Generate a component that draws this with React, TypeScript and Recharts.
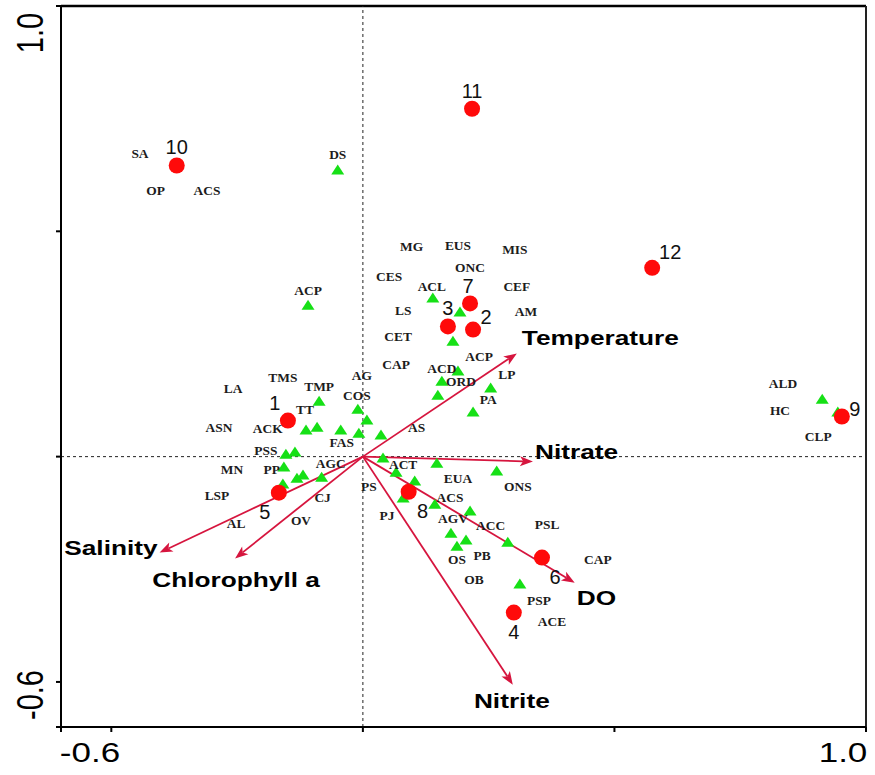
import { ScatterChart, Scatter, XAxis, YAxis, ReferenceLine } from 'recharts'

// sample sites (CCA site scores)
const sites = [
  { id: '1', x: -0.149, y: 0.08 },
  { id: '2', x: 0.219, y: 0.282 },
  { id: '3', x: 0.169, y: 0.289 },
  { id: '4', x: 0.3, y: -0.346 },
  { id: '5', x: -0.167, y: -0.08 },
  { id: '6', x: 0.356, y: -0.224 },
  { id: '7', x: 0.213, y: 0.34 },
  { id: '8', x: 0.091, y: -0.078 },
  { id: '9', x: 0.952, y: 0.089 },
  { id: '10', x: -0.37, y: 0.646 },
  { id: '11', x: 0.217, y: 0.772 },
  { id: '12', x: 0.575, y: 0.419 },
]

// species scores (triangles)
const speciesPoints = [
  { x: -0.109, y: 0.335 }, { x: 0.139, y: 0.351 }, { x: 0.193, y: 0.32 },
  { x: 0.179, y: 0.255 }, { x: 0.189, y: 0.189 }, { x: 0.157, y: 0.166 },
  { x: 0.149, y: 0.135 }, { x: 0.254, y: 0.151 }, { x: 0.219, y: 0.098 },
  { x: -0.087, y: 0.122 }, { x: -0.01, y: 0.104 }, { x: 0.008, y: 0.08 },
  { x: -0.113, y: 0.058 }, { x: -0.091, y: 0.064 }, { x: -0.044, y: 0.058 },
  { x: -0.008, y: 0.051 }, { x: 0.036, y: 0.047 }, { x: -0.153, y: 0.004 },
  { x: -0.135, y: 0.009 }, { x: -0.157, y: -0.024 }, { x: -0.131, y: -0.049 },
  { x: -0.119, y: -0.042 }, { x: -0.082, y: -0.047 }, { x: -0.159, y: -0.062 },
  { x: 0.04, y: -0.004 }, { x: 0.147, y: -0.016 }, { x: 0.266, y: -0.033 },
  { x: 0.066, y: -0.036 }, { x: 0.103, y: -0.055 }, { x: 0.08, y: -0.093 },
  { x: 0.143, y: -0.107 }, { x: 0.213, y: -0.122 }, { x: 0.175, y: -0.171 },
  { x: 0.205, y: -0.186 }, { x: 0.187, y: -0.2 }, { x: 0.288, y: -0.191 },
  { x: 0.312, y: -0.284 }, { x: -0.05, y: 0.635 }, { x: 0.913, y: 0.126 },
  { x: 0.944, y: 0.098 },
]

// species abbreviations
const speciesLabels = [
  { name: 'SA', x: -0.443, y: 0.672 }, { name: 'OP', x: -0.412, y: 0.59 },
  { name: 'ACS', x: -0.31, y: 0.588 }, { name: 'DS', x: -0.05, y: 0.668 },
  { name: 'MG', x: 0.097, y: 0.464 }, { name: 'EUS', x: 0.189, y: 0.466 },
  { name: 'MIS', x: 0.302, y: 0.459 }, { name: 'ONC', x: 0.213, y: 0.417 },
  { name: 'CES', x: 0.052, y: 0.397 }, { name: 'CEF', x: 0.306, y: 0.375 },
  { name: 'ACL', x: 0.137, y: 0.377 }, { name: 'ACP', x: -0.109, y: 0.366 },
  { name: 'LS', x: 0.08, y: 0.322 }, { name: 'AM', x: 0.324, y: 0.32 },
  { name: 'CET', x: 0.07, y: 0.264 }, { name: 'ACP', x: 0.231, y: 0.22 },
  { name: 'CAP', x: 0.066, y: 0.202 }, { name: 'ACD', x: 0.157, y: 0.195 },
  { name: 'LP', x: 0.286, y: 0.18 }, { name: 'ORD', x: 0.195, y: 0.164 },
  { name: 'TMS', x: -0.159, y: 0.173 }, { name: 'AG', x: -0.002, y: 0.178 },
  { name: 'LA', x: -0.258, y: 0.149 }, { name: 'TMP', x: -0.087, y: 0.153 },
  { name: 'COS', x: -0.012, y: 0.133 }, { name: 'ALD', x: 0.835, y: 0.16 },
  { name: 'PA', x: 0.249, y: 0.126 }, { name: 'TT', x: -0.115, y: 0.102 },
  { name: 'HC', x: 0.829, y: 0.1 }, { name: 'ASN', x: -0.286, y: 0.064 },
  { name: 'ACK', x: -0.189, y: 0.06 }, { name: 'AS', x: 0.107, y: 0.062 },
  { name: 'CLP', x: 0.905, y: 0.042 }, { name: 'FAS', x: -0.042, y: 0.029 },
  { name: 'PSS', x: -0.193, y: 0.011 }, { name: 'AGC', x: -0.064, y: -0.016 },
  { name: 'ACT', x: 0.08, y: -0.018 }, { name: 'MN', x: -0.26, y: -0.031 },
  { name: 'PP', x: -0.181, y: -0.031 }, { name: 'EUA', x: 0.189, y: -0.051 },
  { name: 'PS', x: 0.012, y: -0.067 }, { name: 'ONS', x: 0.308, y: -0.069 },
  { name: 'LSP', x: -0.29, y: -0.089 }, { name: 'ACS', x: 0.173, y: -0.093 },
  { name: 'CJ', x: -0.08, y: -0.093 }, { name: 'PJ', x: 0.048, y: -0.133 },
  { name: 'AGV', x: 0.179, y: -0.138 }, { name: 'OV', x: -0.123, y: -0.144 },
  { name: 'AL', x: -0.252, y: -0.151 }, { name: 'PSL', x: 0.366, y: -0.153 },
  { name: 'ACC', x: 0.254, y: -0.155 }, { name: 'PB', x: 0.237, y: -0.222 },
  { name: 'OS', x: 0.187, y: -0.231 }, { name: 'CAP', x: 0.467, y: -0.231 },
  { name: 'OB', x: 0.221, y: -0.275 }, { name: 'PSP', x: 0.35, y: -0.32 },
  { name: 'ACE', x: 0.376, y: -0.368 },
]

// environmental variable vectors
const envVectors = [
  { name: 'Temperature', x: 0.306, y: 0.229 },
  { name: 'Nitrate', x: 0.338, y: -0.011 },
  { name: 'DO', x: 0.421, y: -0.28 },
  { name: 'Nitrite', x: 0.298, y: -0.506 },
  { name: 'Salinity', x: -0.404, y: -0.213 },
  { name: 'Chlorophyll a', x: -0.254, y: -0.226 },
]

const axisTicks = [-0.6, -0.5, 0, 0.5, 1.0]
const axisEndLabels = [-0.6, 1.0]

const ARROW = '#d6153e'
const SANS = "Arial, 'Liberation Sans', sans-serif"
const SERIF = "'Times New Roman', 'Liberation Serif', serif"

const siteLabelOffset: Record<string, [number, number]> = {
  '1': [-13, -18], '2': [13, -13], '3': [0, -18], '4': [0, 19],
  '5': [-14, 19], '6': [13, 19], '7': [-2, -17], '8': [14, 19],
  '9': [13, -8], '10': [0, -19], '11': [0, -18], '12': [18, -16],
}

const envLabelPlacement: Record<string, { dx: number; dy: number; anchor: string }> = {
  Temperature: { dx: 5, dy: -16, anchor: 'start' },
  Nitrate: { dx: 2, dy: -10, anchor: 'start' },
  DO: { dx: 2, dy: 15, anchor: 'start' },
  Nitrite: { dx: -1, dy: 16, anchor: 'middle' },
  Salinity: { dx: -2, dy: -5, anchor: 'end' },
  'Chlorophyll a': { dx: 1, dy: 21, anchor: 'middle' },
}

function StretchText({ x, y, size, children, anchor = 'middle', weight = 'normal', family = SANS, sx = 1.25, rotate = 0, fill = '#000' }: any) {
  const t = `translate(${x},${y}) scale(${sx},1)${rotate ? ` rotate(${rotate})` : ''}`
  return (
    <text transform={t} fontSize={size} fontWeight={weight} fontFamily={family} textAnchor={anchor} dominantBaseline="central" fill={fill}>
      {children}
    </text>
  )
}

const arrowShape = (name: string) => (p: any) => {
  const { x1, y1, x2, y2 } = p
  const len = Math.hypot(x2 - x1, y2 - y1)
  const ux = (x2 - x1) / len
  const uy = (y2 - y1) / len
  const L = 13
  const W = 5
  const bx = x2 - ux * L
  const by = y2 - uy * L
  const nx = x2 - ux * L * 0.75
  const ny = y2 - uy * L * 0.75
  const head = `${x2},${y2} ${bx - uy * W},${by + ux * W} ${nx},${ny} ${bx + uy * W},${by - ux * W}`
  const lp = envLabelPlacement[name]
  return (
    <g>
      <line x1={x1} y1={y1} x2={nx} y2={ny} stroke={ARROW} strokeWidth={1.8} />
      <polygon points={head} fill={ARROW} />
      <StretchText x={x2 + lp.dx} y={y2 + lp.dy} size={21} weight="bold" anchor={lp.anchor}>
        {name}
      </StretchText>
    </g>
  )
}

const TriangleShape = (p: any) => {
  const { cx, cy } = p
  return <polygon points={`${cx},${cy - 6} ${cx - 6.5},${cy + 4} ${cx + 6.5},${cy + 4}`} fill="#16e016" />
}

const SiteShape = (p: any) => {
  const { cx, cy, payload } = p
  const [dx, dy] = siteLabelOffset[payload.id]
  return (
    <g>
      <circle cx={cx} cy={cy} r={8} fill="#ff0a0a" />
      <text x={cx + dx} y={cy + dy} fontSize={20} fontFamily={SANS} textAnchor="middle" dominantBaseline="central" fill="#111">
        {payload.id}
      </text>
    </g>
  )
}

const SpeciesLabelShape = (p: any) => {
  const { cx, cy, payload } = p
  return (
    <StretchText x={cx} y={cy} size={12} weight="bold" family={SERIF} sx={1.12} fill="#1c1c1c">
      {payload.name}
    </StretchText>
  )
}

// only the two ends of each axis carry a number
const XTick = (p: any) => {
  const { x, payload } = p
  if (!axisEndLabels.includes(payload.value)) return <g />
  const dx = payload.value < 0 ? 29 : -23
  return (
    <StretchText x={x + dx} y={752} size={28}>
      {payload.value.toFixed(1)}
    </StretchText>
  )
}

const YTick = (p: any) => {
  const { y, payload } = p
  if (!axisEndLabels.includes(payload.value)) return <g />
  const dy = payload.value < 0 ? -32 : 27
  return (
    <StretchText x={30} y={y + dy} size={29} rotate={-90}>
      {payload.value.toFixed(1)}
    </StretchText>
  )
}

export default function App() {
  return (
    <div style={{ position: 'absolute', left: 0, top: 0, background: '#fff' }}>
      <ScatterChart width={875} height={775} margin={{ top: 6, right: 9, bottom: 0, left: 0 }}>
        <XAxis
          type="number"
          dataKey="x"
          domain={[-0.6, 1.0]}
          ticks={axisTicks}
          interval={0}
          height={48}
          axisLine={{ stroke: '#000', strokeWidth: 2 }}
          tickLine={{ stroke: '#000', strokeWidth: 2 }}
          tickSize={5}
          tick={XTick}
        />
        <YAxis
          type="number"
          dataKey="y"
          domain={[-0.6, 1.0]}
          ticks={axisTicks}
          interval={0}
          width={61}
          axisLine={{ stroke: '#000', strokeWidth: 2 }}
          tickLine={{ stroke: '#000', strokeWidth: 2 }}
          tickSize={5}
          tick={YTick}
        />
        <ReferenceLine y={1.0} stroke="#000" strokeWidth={2.5} />
        <ReferenceLine x={1.0} stroke="#222" strokeWidth={2} />
        <ReferenceLine x={0} stroke="#222" strokeWidth={1} strokeDasharray="3 3" />
        <ReferenceLine y={0} stroke="#222" strokeWidth={1} strokeDasharray="3 3" />
        {envVectors.map((v) => (
          <ReferenceLine
            key={v.name}
            segment={[{ x: 0, y: 0 }, { x: v.x, y: v.y }]}
            shape={arrowShape(v.name)}
          />
        ))}
        <Scatter data={speciesPoints} shape={TriangleShape} isAnimationActive={false} />
        <Scatter data={sites} shape={SiteShape} isAnimationActive={false} />
        <Scatter data={speciesLabels} shape={SpeciesLabelShape} isAnimationActive={false} />
      </ScatterChart>
    </div>
  )
}
